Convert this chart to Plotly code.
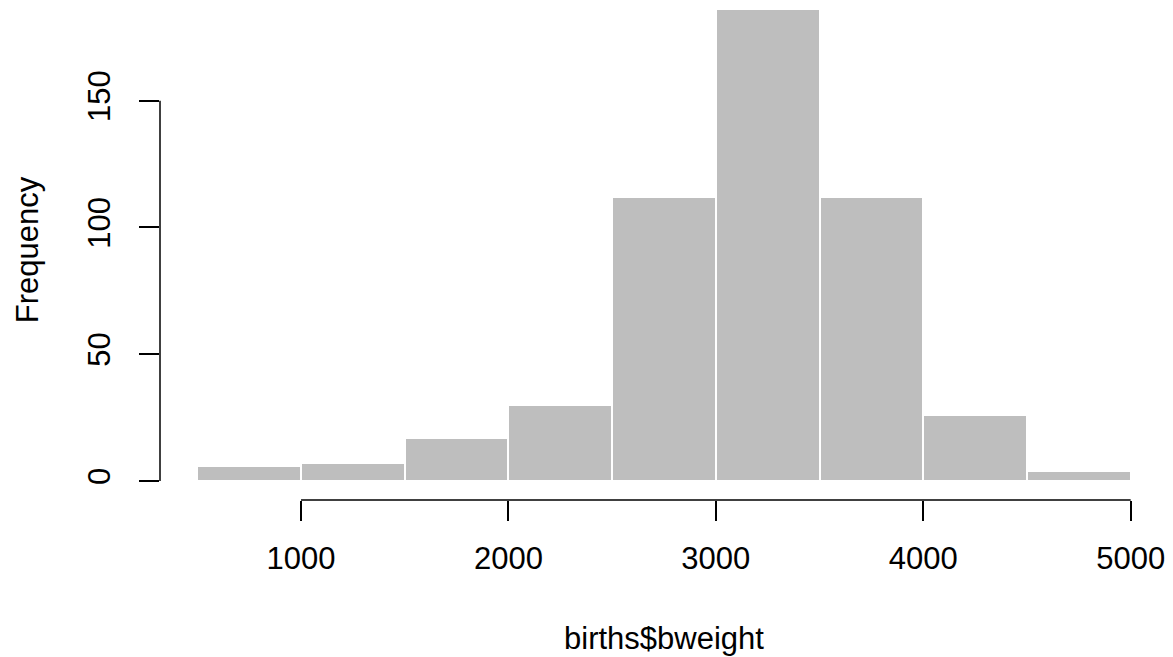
"""
Histogram of births$bweight, drawn the way base R's hist() looks.
"""
import plotly.graph_objects as go

# bin edges (grams) and counts per bin
bin_edges = [500, 1000, 1500, 2000, 2500, 3000, 3500, 4000, 4500, 5000]
counts = [6, 7, 17, 30, 112, 186, 112, 26, 4]

x_ticks = [1000, 2000, 3000, 4000, 5000]
y_ticks = [0, 50, 100, 150]

x_title = "births$bweight"
y_title = "Frequency"

FONT = "Liberation Sans, Arial, Helvetica, sans-serif"

mids = [(a + b) / 2 for a, b in zip(bin_edges[:-1], bin_edges[1:])]
widths = [b - a for a, b in zip(bin_edges[:-1], bin_edges[1:])]

fig = go.Figure(
    go.Bar(
        x=mids,
        y=counts,
        width=widths,
        marker=dict(color="#bebebe", line=dict(color="white", width=2)),
        hovertemplate="%{x}: %{y}<extra></extra>",
    )
)

# R draws axis lines only between the first and last tick
axis_line = dict(color="black", width=1.5)
fig.add_shape(type="line", xref="x", yref="paper",
              x0=min(x_ticks), x1=max(x_ticks), y0=0, y1=0, line=axis_line)
fig.add_shape(type="line", xref="paper", yref="y",
              x0=0, x1=0, y0=min(y_ticks), y1=max(y_ticks), line=axis_line)

tick_style = dict(
    ticks="outside", ticklen=20, tickwidth=1.5, tickcolor="black",
    showline=False, showgrid=False, zeroline=False,
    tickfont=dict(family=FONT, size=31, color="black"),
)

fig.update_xaxes(
    range=[320, 5180], tickvals=x_ticks, ticktext=[str(v) for v in x_ticks],
    ticklabelstandoff=11,
    title=dict(text=x_title, font=dict(family=FONT, size=31, color="black"), standoff=52),
    **tick_style,
)
fig.update_yaxes(
    range=[-7.5, 189.7], tickvals=y_ticks, ticktext=[str(v) for v in y_ticks],
    tickangle=-90, ticklabelstandoff=17,
    title=dict(text=y_title, font=dict(family=FONT, size=31, color="black"), standoff=33),
    **tick_style,
)

fig.update_layout(
    width=1173, height=657,
    margin=dict(l=160, r=5, t=0, b=157, autoexpand=False),
    plot_bgcolor="white", paper_bgcolor="white",
    showlegend=False, bargap=0,
    font=dict(family=FONT, color="black"),
)

# drop the page's default body margin so the figure sits at the window corner
fig.write_html(
    "out.html",
    config={"displayModeBar": False},
    post_script="document.body.style.margin='0';",
)
